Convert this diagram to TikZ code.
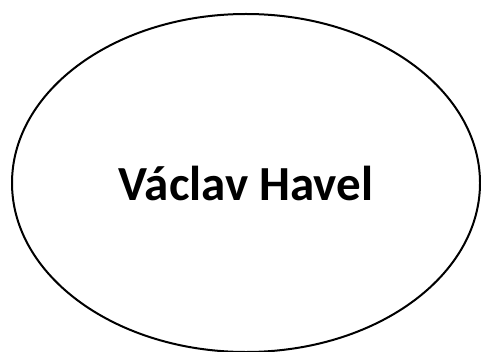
\documentclass[tikz,border=0pt]{standalone}
\usepackage{fontspec}
\setmainfont{Carlito}
\usetikzlibrary{shapes.geometric}

\begin{document}
\begin{tikzpicture}[x=1pt,y=1pt,
    nameoval/.style={ellipse, draw, line width=2pt, inner sep=0pt,
      minimum width=468pt, minimum height=338pt, font=\fontsize{49}{58}\selectfont\bfseries}]
    % page
    \useasboundingbox (0,0) rectangle (481,351);

    % the oval with the name
    \node[nameoval] (havel) at (246,168) {Václav Havel};
  \end{tikzpicture}
\end{document}
